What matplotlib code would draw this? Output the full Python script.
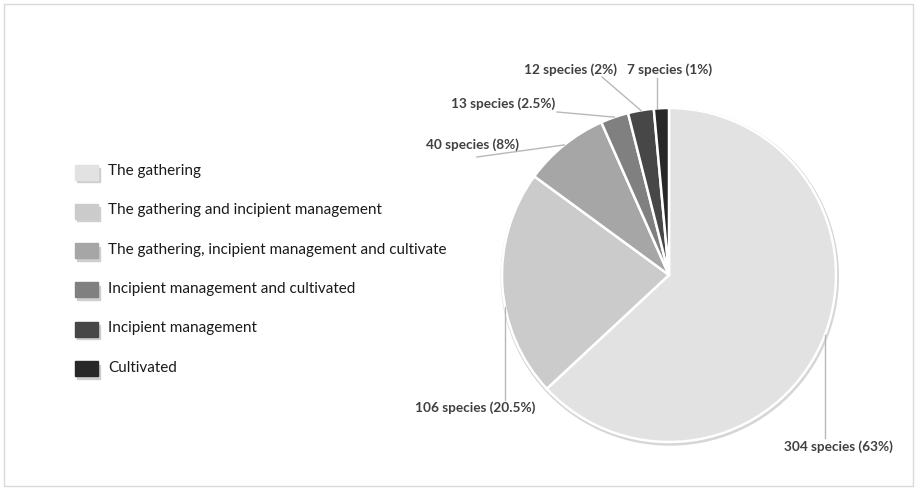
import numpy as np
import matplotlib
matplotlib.use("Agg")
import matplotlib.pyplot as plt
from matplotlib.patches import Rectangle, Circle

# species per management category
categories = ['The gathering',
              'The gathering and incipient management',
              'The gathering, incipient management and cultivate',
              'Incipient management and cultivated',
              'Incipient management',
              'Cultivated']
species = [304, 106, 40, 13, 12, 7]
percent_labels = ['63%', '20.5%', '8%', '2.5%', '2%', '1%']
colors = ['#e2e2e2', '#cbcbcb', '#a6a6a6', '#808080', '#474747', '#282828']

plt.rcParams['font.family'] = ['Lato', 'DejaVu Sans']

fig = plt.figure(figsize=(9.18, 4.88), dpi=100)
ax = fig.add_axes([0, 0, 1, 1])

cx, cy, r = 669, 213, 167

# soft shadow behind the pie
ax.add_patch(Circle((cx + 0.8, cy - 1.5), r + 1.5, color='#d6d6d6', zorder=0))

wedges, _ = ax.pie(species, colors=colors, startangle=90, counterclock=False,
                   center=(cx, cy), radius=r,
                   wedgeprops=dict(edgecolor='white', linewidth=1.8))

ax.set_xlim(0, 918)
ax.set_ylim(0, 488)
ax.set_aspect('auto')
ax.axis('off')

# label text positions and leader line ends
label_pos = [(838, 41), (475, 80), (473, 343), (503, 384), (570, 418), (670, 418)]
elbows = [(825, 50), (505, 88), (477, 331), (557, 376), (602, 411), (657, 410)]
line_color = '#b8b8b8'

for i, w in enumerate(wedges):
    mid = np.deg2rad((w.theta1 + w.theta2) / 2)
    sx, sy = cx + r * np.cos(mid), cy + r * np.sin(mid)
    ex, ey = elbows[i]
    if i in (0, 1, 5):
        # vertical leaders
        sy = cy + np.sqrt(r ** 2 - (ex - cx) ** 2) * np.sign(np.sin(mid))
        ax.plot([ex, ex], [sy, ey], color=line_color, lw=1)
    else:
        ax.plot([sx, ex], [sy, ey], color=line_color, lw=1)
    ax.text(label_pos[i][0], label_pos[i][1],
            f'{species[i]} species ({percent_labels[i]})',
            ha='center', va='center', fontsize=9.8, fontweight='bold',
            color='#404040')

# legend with shadowed swatches
for i, name in enumerate(categories):
    y = 316 - i * 39.3
    ax.add_patch(Rectangle((77, y - 10), 23, 14, color='#cfcfcf', zorder=1))
    ax.add_patch(Rectangle((75, y - 7.5), 23, 15, color=colors[i], zorder=2))
    ax.text(108, y + 1, name, ha='left', va='center', fontsize=11,
            color='#1a1a1a')

# light frame around the chart
ax.add_patch(Rectangle((4, 2), 909, 482, fill=False, edgecolor='#d9d9d9',
                       linewidth=1))

fig.savefig('out.png', dpi=100)
